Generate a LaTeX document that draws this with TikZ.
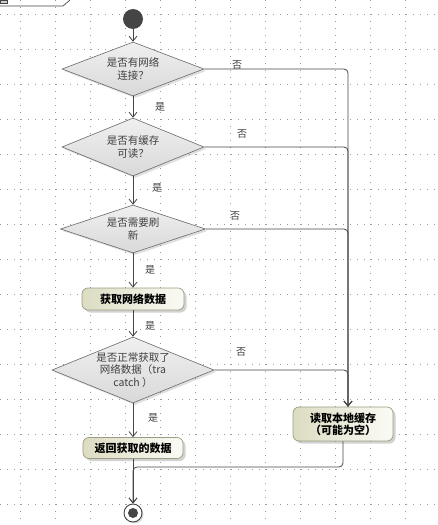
\documentclass[tikz,border=0pt]{standalone}
\usepackage{fontspec}
\newfontfamily\cjk{Noto Sans CJK SC}
\usetikzlibrary{shapes.geometric,arrows.meta,shadows}
\definecolor{lncol}{HTML}{454545}
\definecolor{txtcol}{HTML}{404040}
\definecolor{gridcol}{HTML}{9A9A9A}
\definecolor{actbord}{HTML}{9C9C84}
\definecolor{actleft}{HTML}{DCDCC2}
\definecolor{actright}{HTML}{FBFBF6}
\tikzset{
  x=1pt, y=-1pt,
  gridline/.style={gridcol, line width=0.6pt, dash pattern=on 0.7pt off 6.3pt},
  dec/.style={shape=diamond, draw=lncol!80, line width=0.6pt, inner sep=0pt,
     top color=gray!12, bottom color=gray!30,
     drop shadow={opacity=0.25, shadow xshift=2pt, shadow yshift=-2pt}},
  dectext/.style={align=center, font=\cjk\fontsize{10.5}{12.3}\selectfont, text=txtcol, inner sep=0pt},
  act/.style={shape=rectangle, rounded corners=6pt, draw=actbord, line width=0.7pt,
     left color=actleft, right color=actright, align=center,
     font=\cjk\bfseries\fontsize{11}{12.3}\selectfont, text=black, inner sep=0pt,
     drop shadow={opacity=0.35, shadow xshift=2.5pt, shadow yshift=-2.5pt}},
  flow/.style={draw=lncol, line width=0.8pt, rounded corners=4pt,
     -{Straight Barb[length=5pt,width=8pt,line width=0.8pt]}},
  lbl/.style={font=\cjk\fontsize{10}{12}\selectfont, text=txtcol, inner sep=0pt},
}
\begin{document}
\begin{tikzpicture}
\useasboundingbox (0,0) rectangle (438,525);
\fill[white] (0,0) rectangle (438,525);
% grid
\foreach \k in {0,...,11} {\draw[gridline] (20.5+35*\k,0) -- (20.5+35*\k,525);}
\foreach \k in {0,...,14} {\draw[gridline] (0,14+35*\k) -- (438,14+35*\k);}
% frame tab
\draw[lncol, line width=0.7pt] (0,6) -- (63,6) -- (70,0);
\filldraw[fill=gray!40, draw=lncol, line width=0.4pt] (0,0) rectangle (7,3);
% nodes
\node[circle, fill=lncol, minimum size=20pt, inner sep=0pt] (s) at (133,19) {};
\node[dec, minimum width=142pt, minimum height=54pt,
      label={[dectext]center:是否有网络\\连接？}] (d1) at (133,69) {};
\node[dec, minimum width=142pt, minimum height=58pt,
      label={[dectext]center:是否有缓存\\可读？}] (d2) at (133,147) {};
\node[dec, minimum width=145pt, minimum height=48pt,
      label={[dectext]center:是否需要刷\\新}] (d3) at (133,229) {};
\node[act, minimum width=102pt, minimum height=22pt] (a1) at (133,299) {获取网络数据};
\node[dec, minimum width=162pt, minimum height=66pt,
      label={[dectext]center:是否正常获取了\\网络数据（tra\\catch ）}] (d4) at (133,370) {};
\node[act, minimum width=100pt, minimum height=21pt] (a2) at (133,448) {返回获取的数据};
\node[act, minimum width=100pt, minimum height=34pt] (a3) at (343,424) {读取本地缓存\\（可能为空）};
\node[circle, draw=lncol, line width=0.9pt, fill=white, minimum size=18pt, inner sep=0pt,
      drop shadow={opacity=0.3, shadow xshift=1.5pt, shadow yshift=-1.5pt}] (e) at (133,513) {};
\fill[lncol] (e.center) circle (5pt);
\coordinate (j) at (133,467);
% labels
\node[lbl] (y1) at (160,107) {是};
\node[lbl] (y2) at (157,188) {是};
\node[lbl] (y3) at (150,270) {是};
\node[lbl] (y4) at (150,326) {是};
\node[lbl] (y5) at (153,418) {是};
\node[lbl] (n1) at (237,65) {否};
\node[lbl] (n2) at (242,134) {否};
\node[lbl] (n3) at (235,216) {否};
\node[lbl] (n4) at (241,352) {否};
% connectors
\draw[flow] (s) -- (d1.north);
\draw[flow] (d1.south) -- (d2.north);
\draw[flow] (d2.south) -- (d3.north);
\draw[flow] (d3.south) -- (a1.north);
\draw[flow] (a1.south) -- (d4.north);
\draw[flow] (d4.south) -- (a2.north);
\draw[flow] (a2.south) -- (e.north);
\draw[flow] (d1.east) -| ([xshift=5pt]a3.north);
\draw[flow] (d2.east) -| ([xshift=5pt]a3.north);
\draw[flow] (d3.east) -| ([xshift=5pt]a3.north);
\draw[flow] (d4.east) -| ([xshift=5pt]a3.north);
\draw[flow] (a3.south) |- (j) -- (e.north);
\end{tikzpicture}
\end{document}
